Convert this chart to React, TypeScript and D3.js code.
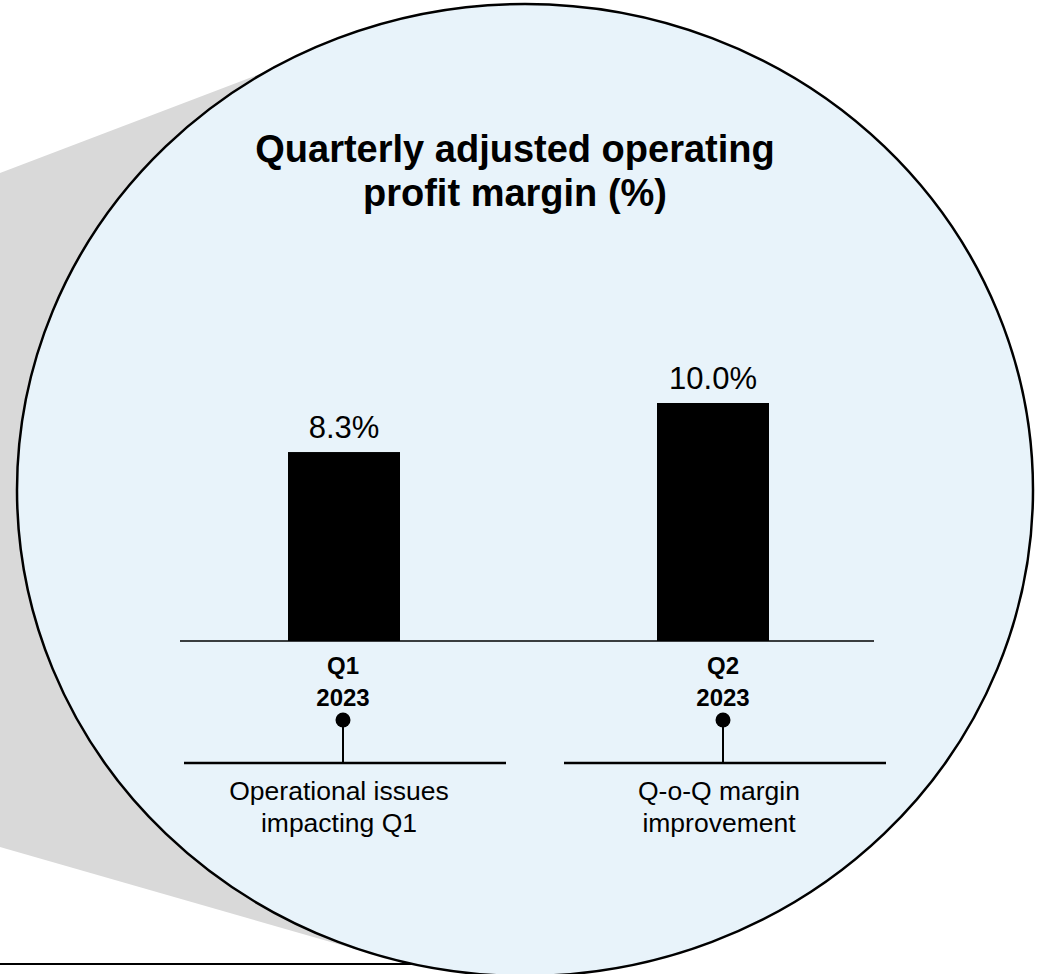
import React from "react";
import * as d3 from "d3";

const titleLines = ["Quarterly adjusted operating", "profit margin (%)"];
const quarters = ["Q1", "Q2"];
const years = ["2023", "2023"];
const margins = [8.3, 10.0];
const noteLine1 = ["Operational issues", "Q-o-Q margin"];
const noteLine2 = ["impacting Q1", "improvement"];

const W = 1043;
const H = 974;
const FONT = "'Liberation Sans', Arial, Helvetica, sans-serif";

export default function App() {
  const x = d3.scalePoint<string>().domain(quarters).range([344, 713]);
  const xAnn = d3.scalePoint<string>().domain(quarters).range([343, 723]);
  const y = d3.scaleLinear().domain([1.75, 10]).range([641, 403]);
  const barW = 112;
  const baseY = y(1.75);

  const ell = { cx: 525, cy: 490, rx: 508, ry: 486 };
  const shadow = d3.line()([
    [0, 173],
    [310, 55],
    [ell.cx, ell.cy],
    [383, 957],
    [0, 847],
  ]) + "Z";

  return (
    <svg
      width={W}
      height={H}
      style={{ position: "absolute", left: 0, top: 0, display: "block" }}
      fontFamily={FONT}
    >
      <rect x={0} y={0} width={W} height={H} fill="#ffffff" />
      <path d={shadow} fill="#d9d9d9" />
      <line x1={0} x2={470} y1={964} y2={964} stroke="#000" strokeWidth={2} />
      <ellipse
        cx={ell.cx}
        cy={ell.cy}
        rx={ell.rx}
        ry={ell.ry}
        fill="#e8f3fa"
        stroke="#000"
        strokeWidth={2.5}
      />
      {titleLines.map((t, i) => (
        <text
          key={t}
          x={515}
          y={162 + i * 44}
          textAnchor="middle"
          fontSize={38}
          fontWeight="bold"
          fill="#000"
        >
          {t}
        </text>
      ))}
      {quarters.map((q, i) => (
        <g key={q}>
          <rect
            x={(x(q) as number) - barW / 2}
            y={y(margins[i])}
            width={barW}
            height={baseY - y(margins[i])}
            fill="#000"
          />
          <text
            x={x(q) as number}
            y={y(margins[i]) - 14}
            textAnchor="middle"
            fontSize={31}
            fill="#000"
          >
            {d3.format(".1f")(margins[i]) + "%"}
          </text>
        </g>
      ))}
      <line x1={180} x2={874} y1={baseY} y2={baseY} stroke="#000" strokeWidth={1.5} />
      {quarters.map((q, i) => {
        const c = xAnn(q) as number;
        return (
          <g key={"ann" + q}>
            <text x={c} y={674} textAnchor="middle" fontSize={24} fontWeight="bold" fill="#000">
              {q}
            </text>
            <text x={c} y={706} textAnchor="middle" fontSize={24} fontWeight="bold" fill="#000">
              {years[i]}
            </text>
            <circle cx={c} cy={720} r={7.5} fill="#000" />
            <line x1={c} x2={c} y1={720} y2={763} stroke="#000" strokeWidth={2} />
            <line x1={c - 159} x2={c + 163} y1={763} y2={763} stroke="#000" strokeWidth={2.5} />
            <text x={c - 4} y={800} textAnchor="middle" fontSize={26.5} fill="#000">
              {noteLine1[i]}
            </text>
            <text x={c - 4} y={832} textAnchor="middle" fontSize={26.5} fill="#000">
              {noteLine2[i]}
            </text>
          </g>
        );
      })}
    </svg>
  );
}
